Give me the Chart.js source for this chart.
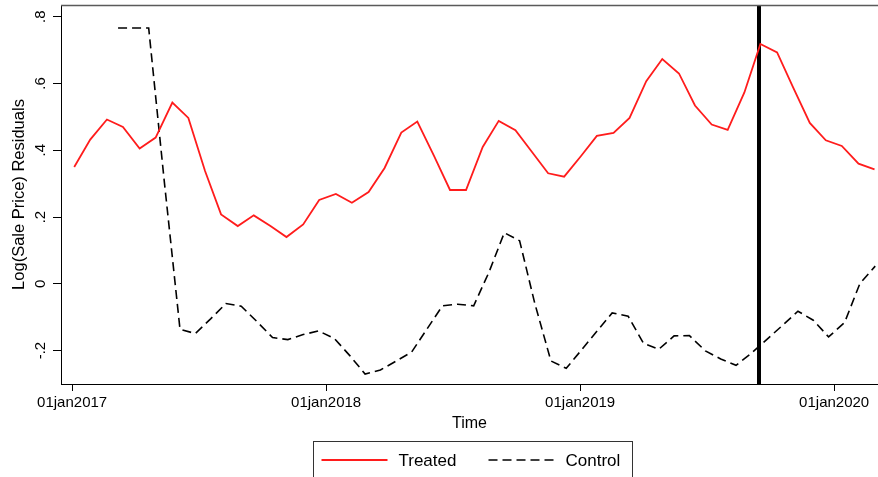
<!DOCTYPE html>
<html>
<head>
<meta charset="utf-8">
<script src="https://cdn.jsdelivr.net/npm/chart.js@4.4.1/dist/chart.umd.min.js"></script>
<style>
  html, body { margin: 0; padding: 0; background: #fff; }
  #wrap { width: 878px; height: 477px; position: relative; }
</style>
</head>
<body>
<div id="wrap"><canvas id="c" width="878" height="477"></canvas></div>
<script>
// Days since 01jan2017 for each observation
const treatedDays = [3, 26, 50, 73, 97, 120, 144, 167, 191, 214, 238, 261, 285, 308, 332, 355, 379, 402, 426, 449,
  473, 496, 520, 543, 566, 590, 613, 637, 660, 684, 707, 731, 754, 778, 801, 825, 848, 872, 895, 919,
  942, 966, 989, 1013, 1036, 1060, 1083, 1106, 1130, 1153];
const treatedValues = [0.350, 0.432, 0.492, 0.470, 0.405, 0.438, 0.543, 0.497, 0.338, 0.208,
  0.173, 0.205, 0.173, 0.140, 0.178, 0.251, 0.269, 0.243, 0.275, 0.347,
  0.453, 0.486, 0.383, 0.281, 0.281, 0.410, 0.488, 0.460, 0.397, 0.331,
  0.321, 0.382, 0.443, 0.452, 0.497, 0.607, 0.673, 0.630, 0.534, 0.477,
  0.461, 0.573, 0.718, 0.693, 0.588, 0.482, 0.430, 0.413, 0.360, 0.343];

const controlDays = [66, 88, 110, 132, 155, 177, 199, 221, 243, 266, 288, 310, 332, 354, 377, 399, 421, 443, 465, 488,
  510, 532, 554, 577, 599, 621, 643, 665, 688, 710, 732, 754, 776, 799, 821, 843, 865, 887, 910, 932,
  954, 976, 998, 1021, 1043, 1065, 1087, 1110, 1132, 1154];
const controlValues = [0.766, 0.766, 0.766, 0.315, -0.136, -0.149, -0.105, -0.059, -0.067, -0.114,
  -0.161, -0.167, -0.152, -0.141, -0.164, -0.215, -0.270, -0.258, -0.232, -0.204,
  -0.135, -0.066, -0.061, -0.066, 0.035, 0.153, 0.129, -0.060, -0.231, -0.253,
  -0.198, -0.142, -0.087, -0.097, -0.178, -0.196, -0.156, -0.155, -0.201, -0.225,
  -0.244, -0.208, -0.167, -0.124, -0.082, -0.109, -0.159, -0.116, 0.001, 0.053];

const seriesNames = ['Treated', 'Control'];
const eventDay = 987;

const xTickDays = [0, 365, 730, 1095];
const xTickLabels = ['01jan2017', '01jan2018', '01jan2019', '01jan2020'];
const yTickValues = [-0.2, 0, 0.2, 0.4, 0.6, 0.8];
const yTickLabels = ['-.2', '0', '.2', '.4', '.6', '.8'];

const xMin = -16, xMax = 1158;
const yMin = -0.3, yMax = 0.835;

const FONT = '"Liberation Sans", Arial, Helvetica, sans-serif';
Chart.defaults.font.family = FONT;
Chart.defaults.color = '#000';

const zip = (xs, ys) => xs.map((x, i) => ({ x, y: ys[i] }));

// Plot-region top edge plus a boxed legend under the axis title
const frameAndLegend = {
  id: 'frameAndLegend',
  afterDraw(chart) {
    const { ctx, chartArea } = chart;
    ctx.save();
    ctx.strokeStyle = '#5a5a5a';
    ctx.lineWidth = 1.5;
    ctx.beginPath();
    ctx.moveTo(chartArea.left, chartArea.top + 0.5);
    ctx.lineTo(chartArea.right, chartArea.top + 0.5);
    ctx.stroke();

    const boxL = 313.5, boxT = 441.5, boxW = 319, boxH = 40;
    ctx.strokeStyle = '#333';
    ctx.lineWidth = 1;
    ctx.strokeRect(boxL, boxT, boxW, boxH);

    const rowY = 460;
    const items = [
      { ds: chart.data.datasets[0], x0: boxL + 8, x1: boxL + 74, tx: boxL + 85 },
      { ds: chart.data.datasets[1], x0: boxL + 175, x1: boxL + 240, tx: boxL + 252 }
    ];
    ctx.font = '17px ' + FONT;
    ctx.textBaseline = 'middle';
    ctx.textAlign = 'left';
    items.forEach(it => {
      ctx.strokeStyle = it.ds.borderColor;
      ctx.lineWidth = it.ds.borderWidth;
      ctx.setLineDash(it.ds.borderDash || []);
      ctx.beginPath();
      ctx.moveTo(it.x0, rowY);
      ctx.lineTo(it.x1, rowY);
      ctx.stroke();
      ctx.setLineDash([]);
      ctx.fillStyle = '#000';
      ctx.fillText(it.ds.label, it.tx, rowY + 1);
    });
    ctx.restore();
  }
};

new Chart(document.getElementById('c'), {
  type: 'line',
  data: {
    datasets: [
      {
        label: seriesNames[0],
        data: zip(treatedDays, treatedValues),
        borderColor: 'rgb(255,28,28)',
        borderWidth: 1.8,
        pointRadius: 0,
        tension: 0,
        order: 1
      },
      {
        label: seriesNames[1],
        data: zip(controlDays, controlValues),
        borderColor: '#000',
        borderWidth: 1.6,
        borderDash: [9, 5],
        pointRadius: 0,
        tension: 0,
        order: 2
      },
      {
        label: 'event',
        data: [{ x: eventDay, y: yMin }, { x: eventDay, y: yMax }],
        borderColor: '#000',
        borderWidth: 4,
        pointRadius: 0,
        order: 3
      }
    ]
  },
  options: {
    responsive: false,
    animation: false,
    events: [],
    layout: { padding: { top: 5, right: 0, bottom: 43, left: 0 } },
    plugins: {
      legend: { display: false },
      tooltip: { enabled: false }
    },
    scales: {
      x: {
        type: 'linear',
        min: xMin,
        max: xMax,
        afterBuildTicks: s => { s.ticks = xTickDays.map(v => ({ value: v })); },
        afterFit: s => { s.height = 50; s.paddingLeft = 0; s.paddingRight = 0; },
        ticks: {
          autoSkip: false,
          maxRotation: 0,
          minRotation: 0,
          padding: 3,
          font: { size: 15 },
          callback: (v) => xTickLabels[xTickDays.indexOf(v)]
        },
        grid: { display: true, drawOnChartArea: false, drawTicks: true, tickLength: 7, color: '#000', lineWidth: 1 },
        border: { display: true, color: '#000', width: 1 },
        title: { display: true, text: 'Time', font: { size: 16 }, padding: { top: 0, bottom: 1 } }
      },
      y: {
        type: 'linear',
        min: yMin,
        max: yMax,
        afterBuildTicks: s => { s.ticks = yTickValues.map(v => ({ value: v })); },
        afterFit: s => { s.width = 61; s.paddingTop = 0; s.paddingBottom = 0; },
        ticks: {
          autoSkip: false,
          minRotation: 90,
          maxRotation: 90,
          crossAlign: 'center',
          padding: 3,
          font: { size: 15 },
          callback: (v) => yTickLabels[yTickValues.findIndex(t => Math.abs(t - v) < 1e-9)]
        },
        grid: { display: true, drawOnChartArea: false, drawTicks: true, tickLength: 8, color: '#000', lineWidth: 1 },
        border: { display: true, color: '#000', width: 1 },
        title: { display: true, text: 'Log(Sale Price) Residuals', font: { size: 16.5 }, padding: { top: 10, bottom: 0 } }
      }
    }
  },
  plugins: [frameAndLegend]
});
</script>
</body>
</html>
